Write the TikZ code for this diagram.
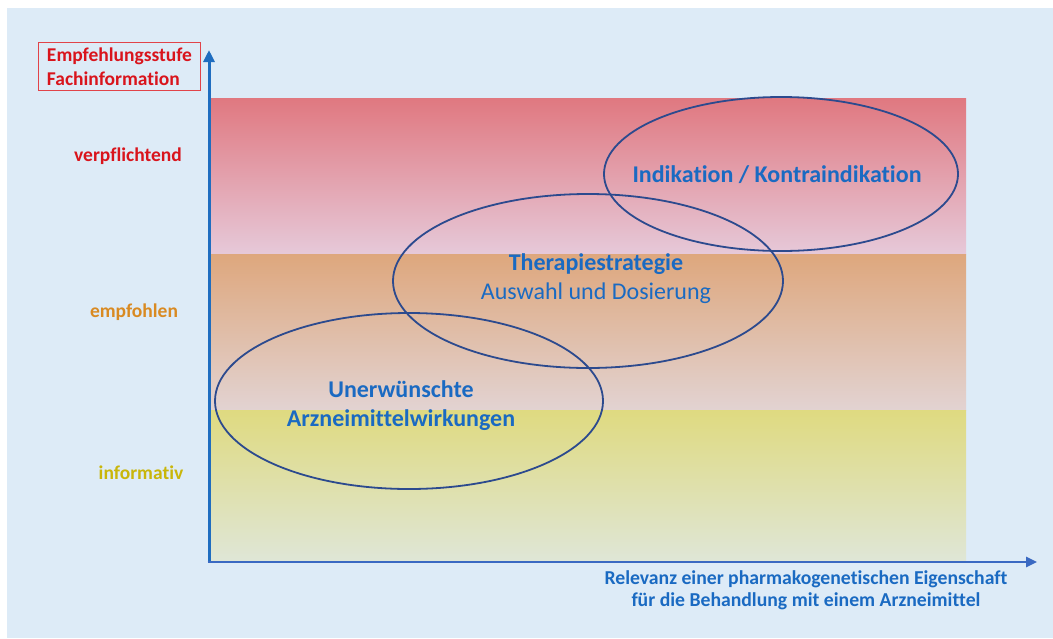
\documentclass[tikz,border=0pt]{standalone}
\usepackage{fontspec}
\setmainfont{Carlito}[Ligatures=NoCommon]
\usepackage{tikz}
\usetikzlibrary{arrows.meta,positioning}

\definecolor{hgblau}{HTML}{DDEBF7}
\definecolor{txtrot}{HTML}{D9141C}
\definecolor{txtorange}{HTML}{D98A22}
\definecolor{txtgelb}{HTML}{C9B60A}
\definecolor{txtblau}{HTML}{1A6AC2}
\definecolor{kreisblau}{HTML}{2C4A8E}
\definecolor{achsblau}{HTML}{1F6DC0}
\definecolor{achsblau2}{HTML}{3A69C2}

\tikzset{
  stufe/.style={font=\bfseries\fontsize{19.5}{24}\selectfont,inner sep=0pt},
  bereich/.style={font=\bfseries\fontsize{24}{29}\selectfont,text=txtblau,align=center,inner sep=0pt},
  kreis/.style={draw=kreisblau,line width=1.8pt},
}

\begin{document}
\begin{tikzpicture}[x=1pt,y=-1pt]
  \useasboundingbox (0,0) rectangle (1053,638);
  % Hintergrund
  \fill[hgblau] (7,8) rectangle (1053,638);

  % ---- Farbbänder der drei Empfehlungsstufen (oben rot, Mitte orange, unten gelb) ----
  \foreach \ob/\ub/\fo/\fu in {98/254/E07880/E6C9D9,
                               254/410/DEA77D/E2D3D2,
                               410/560/DFDA80/DFE6D6} {
    \definecolor{oben}{HTML}{\fo}
    \definecolor{unten}{HTML}{\fu}
    \shade[top color=oben,bottom color=unten] (211,\ob) rectangle (966,\ub);
  }

  % ---- Achsen ----
  \coordinate (ursprung) at (209,562);
  \coordinate (yspitze) at (209,50);
  \coordinate (xspitze) at (1037,562);
  \draw[achsblau,line width=3pt,-{Triangle[length=12pt,width=11pt]}] (ursprung) -- (yspitze);
  \draw[achsblau2,line width=2.5pt,-{Triangle[length=11pt,width=10pt]}] ([xshift=-1.5pt]ursprung) -- (xspitze);

  % ---- Achsenbeschriftung oben links (Kasten) ----
  \node[draw=txtrot!80,line width=0.8pt,text=txtrot,align=left,
        font=\bfseries\fontsize{19.5}{24}\selectfont,
        inner xsep=8.5pt,inner ysep=5pt] (fachinfo) at (119.5,66.5)
    {Empfehlungsstufe\\Fachinformation};

  % Stufen links neben der y-Achse
  \node[stufe,text=txtrot]    (verpflichtend) at (128,156) {verpflichtend};
  \node[stufe,text=txtorange] (empfohlen)     at (134,312) {empfohlen};
  \node[stufe,text=txtgelb]   (informativ)    at (141,473) {informativ};

  % ---- Ellipsen (nur Umriss) ----
  \draw[kreis] (781,174) ellipse [x radius=177,y radius=77];
  \draw[kreis] (588,281) ellipse [x radius=195,y radius=87];
  \draw[kreis] (409,401) ellipse [x radius=194,y radius=88];

  % Beschriftungen in den Ellipsen
  \node[bereich] (indikation) at (777,175) {Indikation / Kontraindikation};
  \node[bereich] (therapie) at (596,279)
    {Therapiestrategie\\{\mdseries Auswahl und Dosierung}};
  \node[bereich] (uaw) at (401,406) {Unerwünschte\\Arzneimittelwirkungen};

  % x-Achsenbeschriftung
  \node[font=\bfseries\fontsize{19.7}{21.5}\selectfont,text=txtblau,align=center,inner sep=0pt]
    (relevanz) at (806,590)
    {Relevanz einer pharmakogenetischen Eigenschaft\\für die Behandlung mit einem Arzneimittel};
\end{tikzpicture}
\end{document}
